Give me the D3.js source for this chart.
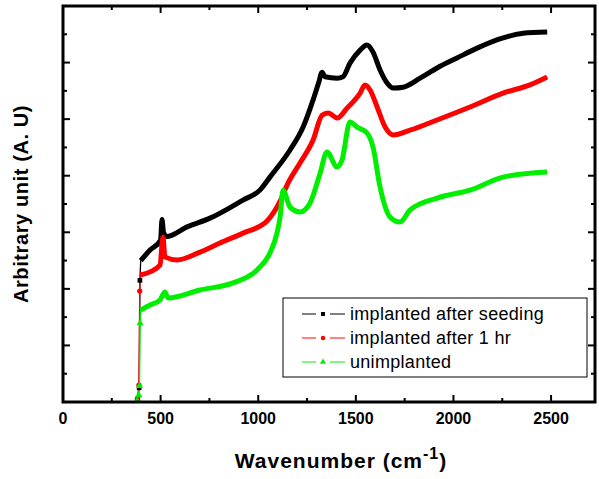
<!DOCTYPE html>
<html>
<head>
<meta charset="utf-8">
<script src="https://cdn.jsdelivr.net/npm/d3@7"></script>
<style>
  body { margin: 0; background: #fff; }
  text { font-family: "Liberation Sans", Arial, sans-serif; }
</style>
</head>
<body>
<div id="chart-area"></div>
<script>
// data: [wavenumber, arbitrary units]
const seeding = [
  [383, 0.1], [390, 0.5], [394, 4.3], [398, 5.0], [446, 5.37], [500, 5.72], [507, 6.45], [515, 6.0],
  [530, 5.85], [635, 6.19], [753, 6.5], [922, 7.14], [1010, 7.5], [1060, 7.95], [1163, 8.91],
  [1230, 9.72], [1281, 10.68], [1310, 11.3], [1327, 11.66], [1342, 11.5], [1404, 11.45],
  [1434, 11.5], [1470, 11.98], [1522, 12.44], [1557, 12.62], [1588, 12.37], [1624, 11.74],
  [1660, 11.28], [1691, 11.1], [1742, 11.13], [1829, 11.45], [1916, 11.81], [2018, 12.16],
  [2121, 12.51], [2254, 12.87], [2357, 13.04], [2480, 13.08]
]
const oneHour = [
  [381, 0.1], [389, 0.6], [393, 3.92], [396, 4.49], [446, 4.6], [497, 4.84], [512, 5.83], [522, 5.13],
  [584, 5.02], [702, 5.3], [804, 5.62], [922, 5.97], [1045, 6.4], [1112, 7.1], [1150, 7.7],
  [1214, 8.45], [1281, 9.26], [1327, 10.14], [1358, 10.22], [1404, 10.04], [1455, 10.39],
  [1522, 10.92], [1547, 11.21], [1573, 11.03], [1609, 10.43], [1650, 9.72], [1691, 9.44],
  [1778, 9.61], [1916, 9.97], [2085, 10.43], [2254, 10.92], [2392, 11.21], [2480, 11.49]
]
const unimplanted = [
  [380, 0.05], [388, 0.25], [392, 0.57], [395, 2.79], [398, 3.25], [446, 3.43], [497, 3.61],
  [522, 3.89], [538, 3.68], [702, 3.96], [871, 4.21], [994, 4.67], [1060, 5.27], [1096, 5.97],
  [1112, 6.54], [1127, 7.49], [1163, 6.89], [1214, 6.72], [1265, 7.03], [1317, 8.09],
  [1352, 8.84], [1404, 8.31], [1429, 8.55], [1470, 9.9], [1506, 9.72], [1557, 9.51],
  [1588, 9.01], [1624, 7.6], [1675, 6.54], [1726, 6.36], [1778, 6.79], [1916, 7.21],
  [2085, 7.49], [2254, 7.95], [2480, 8.13]
]
const seriesNames = ["implanted after seeding", "implanted after 1 hr", "unimplanted"]
const seriesColors = ["#000000", "#ff0000", "#00ee00"]
const seriesSymbols = [d3.symbolSquare, d3.symbolCircle, d3.symbolTriangle]
const xTicks = [0, 500, 1000, 1500, 2000, 2500]

const width = 599, height = 479
const margin = { left: 63, right: 4, top: 6, bottom: 77 }

const svg = d3.select("#chart-area").append("svg").attr("width", width).attr("height", height)

const x = d3.scaleLinear().domain([0, 2725]).range([margin.left, width - margin.right])
const y = d3.scaleLinear().domain([0, 14]).range([height - margin.bottom, margin.top])

const allSeries = [seeding, oneHour, unimplanted]

// thin line through every point, thick line where the points are dense
const line = d3.line().x(d => x(d[0])).y(d => y(d[1]))
const thick = d3.line().x(d => x(d[0])).y(d => y(d[1])).curve(d3.curveMonotoneX)
allSeries.forEach((data, i) => {
  svg.append("path").attr("d", line(data)).attr("fill", "none")
     .attr("stroke", seriesColors[i]).attr("stroke-width", 1.3)
})
allSeries.forEach((data, i) => {
  const dense = data.filter(d => d[1] >= (i === 2 ? 3.2 : i === 1 ? 4.4 : 4.9))
  svg.append("path").attr("d", thick(dense)).attr("fill", "none")
     .attr("stroke", seriesColors[i]).attr("stroke-width", 5)
     .attr("stroke-linejoin", "round")
  const sparse = data.filter(d => !dense.includes(d))
  svg.selectAll(null).data(sparse).enter().append("path")
     .attr("d", d3.symbol().type(seriesSymbols[i]).size(22))
     .attr("transform", d => `translate(${x(d[0])},${y(d[1])})`)
     .attr("fill", seriesColors[i])
})

// frame with inward ticks
const xMinor = d3.range(250, 2725, 500)
const yMajor = d3.range(0, 15, 2)
const yMinor = d3.range(1, 14, 2)
const ticks = svg.append("g").attr("stroke", "#000").attr("stroke-width", 2)
xTicks.concat(xMinor).forEach(t => {
  const len = xTicks.includes(t) ? 7 : 4
  ticks.append("line").attr("x1", x(t)).attr("x2", x(t)).attr("y1", y(0)).attr("y2", y(0) - len)
  ticks.append("line").attr("x1", x(t)).attr("x2", x(t)).attr("y1", y(14)).attr("y2", y(14) + len)
})
yMajor.concat(yMinor).forEach(t => {
  const len = yMajor.includes(t) ? 7 : 4
  ticks.append("line").attr("y1", y(t)).attr("y2", y(t)).attr("x1", x(0)).attr("x2", x(0) + len)
  ticks.append("line").attr("y1", y(t)).attr("y2", y(t)).attr("x1", x(2725)).attr("x2", x(2725) - len)
})
svg.append("rect").attr("x", x(0)).attr("y", y(14))
   .attr("width", x(2725) - x(0)).attr("height", y(0) - y(14))
   .attr("fill", "none").attr("stroke", "#000").attr("stroke-width", 3)

svg.selectAll(".xlabel").data(xTicks).enter().append("text")
   .attr("x", d => x(d)).attr("y", 424)
   .attr("text-anchor", "middle").attr("font-size", 16).attr("font-weight", "bold")
   .text(d => d)

// axis titles
const xTitle = svg.append("text").attr("x", 341).attr("y", 468)
   .attr("text-anchor", "middle").attr("font-size", 21).attr("font-weight", "bold")
   .attr("letter-spacing", 1)
xTitle.append("tspan").text("Wavenumber (cm")
xTitle.append("tspan").attr("dy", -9).attr("font-size", 16).text("-1")
xTitle.append("tspan").attr("dy", 9).text(")")

svg.append("text").attr("transform", "translate(28,204) rotate(-90)")
   .attr("text-anchor", "middle").attr("font-size", 20).attr("font-weight", "bold")
   .attr("letter-spacing", 0.6)
   .text("Arbitrary unit (A. U)")

// legend
svg.append("rect").attr("x", 283).attr("y", 298).attr("width", 304).attr("height", 79)
   .attr("fill", "#fff").attr("stroke", "#000").attr("stroke-width", 1)
seriesNames.forEach((name, i) => {
  const ly = 314 + i * 24
  svg.append("line").attr("x1", 302).attr("x2", 316).attr("y1", ly).attr("y2", ly)
     .attr("stroke", seriesColors[i]).attr("stroke-width", 1)
  svg.append("line").attr("x1", 330).attr("x2", 345).attr("y1", ly).attr("y2", ly)
     .attr("stroke", seriesColors[i]).attr("stroke-width", 1)
  svg.append("path").attr("d", d3.symbol().type(seriesSymbols[i]).size(16))
     .attr("transform", `translate(323,${ly})`).attr("fill", seriesColors[i])
  svg.append("text").attr("x", 350).attr("y", ly + 6).attr("font-size", 18)
     .attr("letter-spacing", 0.3)
     .text(name)
})
</script>
</body>
</html>
